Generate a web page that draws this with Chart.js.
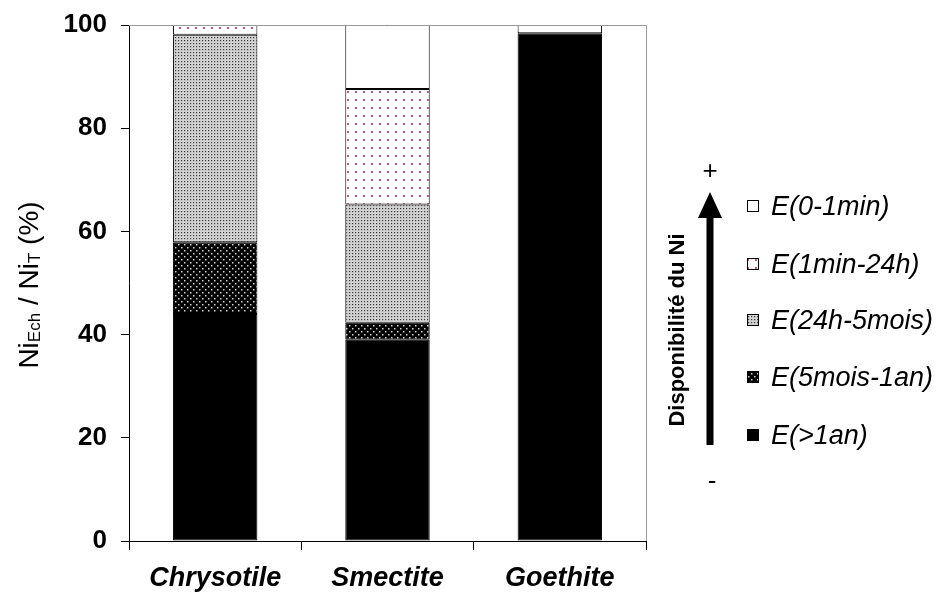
<!DOCTYPE html>
<html>
<head>
<meta charset="utf-8">
<script src="https://cdn.jsdelivr.net/npm/chart.js@4/dist/chart.umd.min.js"></script>
<style>
    html, body { margin: 0; padding: 0; background: #fff; }
    #wrap { width: 945px; height: 598px; }
</style>
</head>
<body>
<div id="wrap"><canvas id="chart" width="945" height="598"></canvas></div>
<script>
const categories = ['Chrysotile', 'Smectite', 'Goethite'];
const seriesLabels = ['E(>1an)', 'E(5mois-1an)', 'E(24h-5mois)', 'E(1min-24h)', 'E(0-1min)'];
const valGt1an = [44.0, 39.0, 98.4];
const val5mois1an = [13.9, 3.3, 0];
const val24h5mois = [40.2, 22.9, 0];
const val1min24h = [1.9, 22.4, 0];
const val0to1min = [0, 12.4, 1.6];
const yTicks = [0, 20, 40, 60, 80, 100];

const FONT = "'Liberation Sans', Arial, Helvetica, sans-serif";

function make_pattern(bg, dot, size, dots, dotSize) {
    const c = document.createElement('canvas');
    c.width = size;
    c.height = size;
    const g = c.getContext('2d');
    g.fillStyle = bg;
    g.fillRect(0, 0, size, size);
    g.fillStyle = dot;
    for (let i = 0; i < dots.length; i++) {
        g.fillRect(dots[i][0], dots[i][1], dotSize, dotSize);
    }
    return g.createPattern(c, 'repeat');
}

const fills = [
    '#000000',
    make_pattern('#000000', '#d0d0d0', 6, [[1, 1], [4, 4]], 1.5),
    make_pattern('#d2d2d2', '#3c3c3c', 3, [[1, 1]], 1.2),
    make_pattern('#ffffff', '#c0508c', 8, [[3, 3]], 2),
    '#ffffff'
];
const seriesValues = [valGt1an, val5mois1an, val24h5mois, val1min24h, val0to1min];

let datasets = [];
for (let i = 0; i < seriesLabels.length; i++) {
    datasets.push({
        label: seriesLabels[i],
        data: seriesValues[i],
        backgroundColor: fills[i],
        borderColor: '#000',
        borderWidth: 1,
        borderSkipped: false,
        categoryPercentage: 1.0,
        barPercentage: 0.49
    });
}

// decorations: plot frame, y title, arrow, custom legend
const decor = {
    id: 'decor',
    afterDraw(chart) {
        const ctx = chart.ctx;
        const a = chart.chartArea;
        ctx.save();

        // grey frame top / right
        ctx.strokeStyle = '#999';
        ctx.lineWidth = 1;
        ctx.beginPath();
        ctx.moveTo(a.left, a.top + 0.5);
        ctx.lineTo(a.right + 0.5, a.top + 0.5);
        ctx.lineTo(a.right + 0.5, a.bottom);
        ctx.stroke();

        // y axis title with subscripts
        const parts = [['Ni', 0], ['Ech', 1], [' / Ni', 0], ['T', 1], [' (%)', 0]];
        const big = 28, small = 17;
        let total = 0;
        for (let i = 0; i < parts.length; i++) {
            ctx.font = (parts[i][1] ? small : big) + 'px ' + FONT;
            total += ctx.measureText(parts[i][0]).width;
        }
        ctx.translate(28, (a.top + a.bottom) / 2 + 2);
        ctx.rotate(-Math.PI / 2);
        ctx.fillStyle = '#000';
        ctx.textBaseline = 'alphabetic';
        ctx.textAlign = 'left';
        let x = -total / 2;
        for (let i = 0; i < parts.length; i++) {
            ctx.font = (parts[i][1] ? small : big) + 'px ' + FONT;
            ctx.fillText(parts[i][0], x, parts[i][1] ? 12 : 10);
            x += ctx.measureText(parts[i][0]).width;
        }
        ctx.setTransform(1, 0, 0, 1, 0, 0);

        // arrow
        const ax = 710;
        ctx.fillStyle = '#000';
        ctx.fillRect(ax - 3.5, 214, 7, 231);
        ctx.beginPath();
        ctx.moveTo(ax, 192);
        ctx.lineTo(ax + 12, 218);
        ctx.lineTo(ax - 12, 218);
        ctx.closePath();
        ctx.fill();

        ctx.font = '26px ' + FONT;
        ctx.textAlign = 'center';
        ctx.textBaseline = 'middle';
        ctx.fillText('+', ax, 172);
        ctx.fillText('-', ax + 2, 482);

        ctx.save();
        ctx.translate(678, 330);
        ctx.rotate(-Math.PI / 2);
        ctx.font = 'bold 22px ' + FONT;
        ctx.fillText('Disponibilité du Ni', 0, 0);
        ctx.restore();

        // legend, top item = last dataset
        const rowY = [206, 264, 320, 377, 435];
        const ds = chart.data.datasets;
        ctx.textAlign = 'left';
        ctx.font = 'italic 27px ' + FONT;
        for (let i = 0; i < ds.length; i++) {
            const d = ds[ds.length - 1 - i];
            const y = rowY[i];
            ctx.fillStyle = d.backgroundColor;
            ctx.fillRect(747, y - 6, 12, 12);
            ctx.strokeStyle = '#000';
            ctx.lineWidth = 1;
            ctx.strokeRect(747.5, y - 5.5, 11, 11);
            ctx.fillStyle = '#000';
            ctx.fillText(d.label, 771, y + 1);
        }
        ctx.restore();
    }
};

new Chart(document.getElementById('chart').getContext('2d'), {
    type: 'bar',
    data: {
        labels: categories,
        datasets: datasets
    },
    options: {
        responsive: false,
        animation: false,
        devicePixelRatio: 1,
        layout: {
            padding: {top: 25, right: 299, left: 0, bottom: 0}
        },
        plugins: {
            legend: {display: false},
            tooltip: {enabled: false}
        },
        scales: {
            x: {
                stacked: true,
                grid: {
                    display: true,
                    offset: true,
                    drawOnChartArea: false,
                    tickLength: 9,
                    color: '#000'
                },
                border: {color: '#000', width: 1},
                ticks: {
                    color: '#000',
                    padding: 12,
                    font: {family: FONT, size: 27, weight: 'bold', style: 'italic'}
                },
                afterFit: function (scale) {
                    scale.height = 57;
                }
            },
            y: {
                stacked: true,
                min: 0,
                max: 100,
                afterBuildTicks: function (scale) {
                    scale.ticks = yTicks.map(v => ({value: v}));
                },
                grid: {
                    display: true,
                    drawOnChartArea: false,
                    tickLength: 8,
                    color: '#000'
                },
                border: {color: '#000', width: 1},
                ticks: {
                    color: '#000',
                    padding: 14,
                    font: {family: FONT, size: 26, weight: 'bold', lineHeight: 0.9}
                },
                afterFit: function (scale) {
                    scale.width = 129;
                    scale.paddingTop = 0;
                }
            }
        }
    },
    plugins: [decor]
});
</script>
</body>
</html>
